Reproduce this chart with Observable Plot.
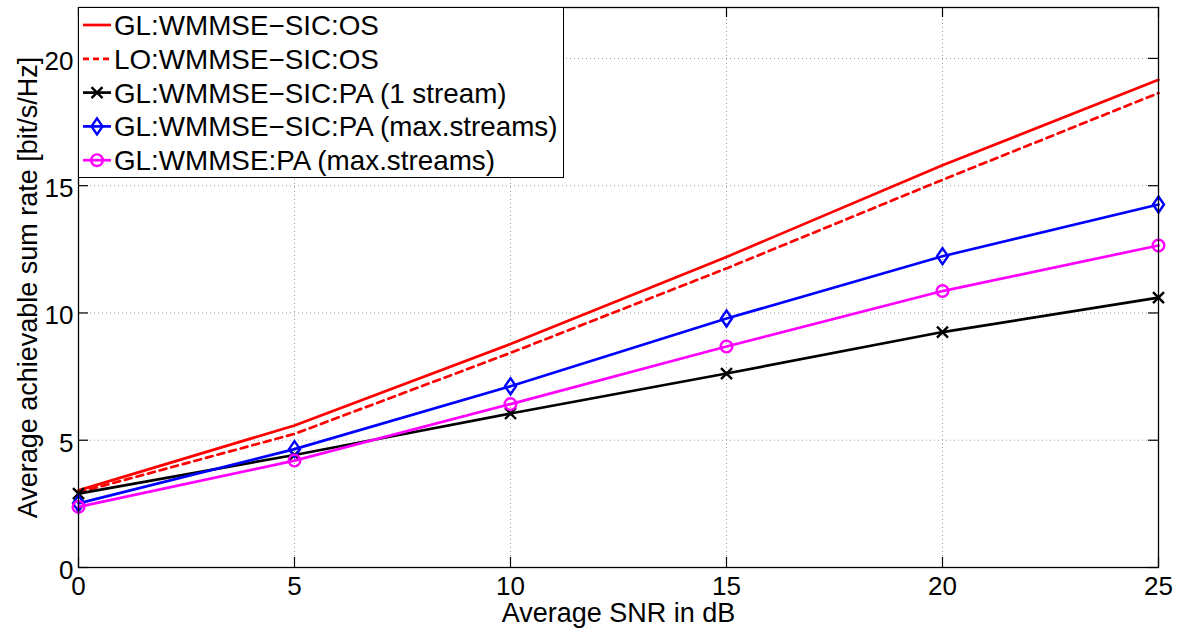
<!DOCTYPE html>
<html><head><meta charset="utf-8">
<script src="https://cdn.jsdelivr.net/npm/d3@7"></script>
<script src="https://cdn.jsdelivr.net/npm/@observablehq/plot@0.6"></script>
<style>
body{margin:0;background:#fff;}
#wrap{position:relative;width:1179px;height:628px;font-family:"Liberation Sans",Arial,Helvetica,sans-serif;}
#legend{position:absolute;left:78px;top:7px;width:486px;height:171px;box-sizing:border-box;border:1.3px solid #000;background:#fff;}
#legend svg{display:block;}
</style></head><body><div id="wrap"></div>
<script>
// ---- data ----
const snr = [0, 5, 10, 15, 20, 25];
const seriesNames = [
  "GL:WMMSE\u2212SIC:OS",
  "LO:WMMSE\u2212SIC:OS",
  "GL:WMMSE\u2212SIC:PA (1 stream)",
  "GL:WMMSE\u2212SIC:PA (max.streams)",
  "GL:WMMSE:PA (max.streams)"
];
const glSicOs   = [3.03, 5.58, 8.78, 12.20, 15.80, 19.16];
const loSicOs   = [2.95, 5.25, 8.43, 11.75, 15.23, 18.64];
const glSicPa1  = [2.90, 4.42, 6.05, 7.62, 9.25, 10.60];
const glSicPaMx = [2.52, 4.65, 7.12, 9.78, 12.23, 14.26];
const glPaMx    = [2.38, 4.20, 6.42, 8.68, 10.86, 12.65];
const seriesValues = [glSicOs, loSicOs, glSicPa1, glSicPaMx, glPaMx];
const seriesColors = ["#ff0000", "#ff0000", "#000000", "#0000ff", "#ff00ff"];
const seriesDash = [null, "7,5", null, null, null];
const seriesMarker = [null, null, "times", "diamond", "circle"];
const xTicks = [0, 5, 10, 15, 20, 25];
const yTicks = [0, 5, 10, 15, 20];
const xDomain = [0, 25];
const yDomain = [0, 22];
const xLabel = "Average SNR in dB";
const yLabel = "Average achievable sum rate [bit/s/Hz]";

// ---- symbols ----
const tallDiamond = {draw(c){c.moveTo(0,-8);c.lineTo(5.5,0);c.lineTo(0,8);c.lineTo(-5.5,0);c.closePath();}};
const cross = {draw(c){c.moveTo(-5.5,-5.5);c.lineTo(5.5,5.5);c.moveTo(5.5,-5.5);c.lineTo(-5.5,5.5);}};
const ring = {draw(c){c.moveTo(5.8,0);c.arc(0,0,5.8,0,2*Math.PI);}};
const symbolFor = {times: cross, diamond: tallDiamond, circle: ring};

const W = 1179, H = 628, mL = 78, mR = 21, mT = 7, mB = 61;
const tickPx = 10;
const yTickLen = tickPx * (yDomain[1]-yDomain[0]) / (H - mT - mB);
const xTickLen = tickPx * (xDomain[1]-xDomain[0]) / (W - mL - mR);

const marks = [
  Plot.gridX(xTicks, {stroke: "#9a9a9a", strokeOpacity: 1, strokeDasharray: "1,3", strokeWidth: 1}),
  Plot.gridY(yTicks, {stroke: "#9a9a9a", strokeOpacity: 1, strokeDasharray: "1,3", strokeWidth: 1}),
];
seriesValues.forEach((vals, k) => {
  const rows = snr.map((x, i) => ({x, y: vals[i], s: seriesNames[k]}));
  marks.push(Plot.line(rows, {x: "x", y: "y", stroke: seriesColors[k], strokeWidth: 2.7,
    strokeDasharray: seriesDash[k] || undefined}));
  if (seriesMarker[k]) {
    marks.push(Plot.dot(rows, {x: "x", y: "y", symbol: symbolFor[seriesMarker[k]], r: 6,
      stroke: seriesColors[k], strokeWidth: 2.4, fill: "none"}));
  }
});
marks.push(
  // inward ticks (bottom, top, left, right)
  Plot.ruleX(xTicks, {x: d => d, y1: yDomain[0], y2: yDomain[0] + yTickLen, stroke: "#000", strokeWidth: 1.2}),
  Plot.ruleX(xTicks, {x: d => d, y1: yDomain[1] - yTickLen, y2: yDomain[1], stroke: "#000", strokeWidth: 1.2}),
  Plot.ruleY(yTicks, {y: d => d, x1: xDomain[0], x2: xDomain[0] + xTickLen, stroke: "#000", strokeWidth: 1.2}),
  Plot.ruleY(yTicks, {y: d => d, x1: xDomain[1] - xTickLen, x2: xDomain[1], stroke: "#000", strokeWidth: 1.2}),
  Plot.frame({stroke: "#000", strokeWidth: 1.3}),
  Plot.axisX(xTicks, {tickSize: 0, tickPadding: 9, fontSize: 26, label: null, tickFormat: d => String(d)}),
  Plot.axisY(yTicks, {tickSize: 0, tickPadding: 5, fontSize: 26, label: null, dy: 3, tickFormat: d => String(d)}),
  Plot.text([xLabel], {frameAnchor: "bottom", text: d => d, dy: 46, lineAnchor: "middle", textAnchor: "middle", fontSize: 27, fill: "#000"}),
  Plot.text([yLabel], {frameAnchor: "left", text: d => d, dx: -50, rotate: -90, lineAnchor: "middle", textAnchor: "middle", fontSize: 27, fill: "#000"})
);

const chart = Plot.plot({
  width: W, height: H, marginLeft: mL, marginRight: mR, marginTop: mT, marginBottom: mB,
  x: {domain: xDomain, label: null},
  y: {domain: yDomain, label: null},
  style: {fontFamily: "'Liberation Sans', Arial, Helvetica, sans-serif", background: "#fff", color: "#000", overflow: "visible"},
  marks
});
const wrap = document.getElementById("wrap");
wrap.appendChild(chart);

// ---- legend (inside the axes, top-left) ----
const legend = document.createElement("div");
legend.id = "legend";
const ns = "http://www.w3.org/2000/svg";
const lsvg = document.createElementNS(ns, "svg");
lsvg.setAttribute("width", 484); lsvg.setAttribute("height", 169);
const rowY = i => 17 + i * 33.8;
const symPath = {
  times: "M-5.5,-5.5L5.5,5.5M5.5,-5.5L-5.5,5.5",
  diamond: "M0,-8L5.5,0L0,8L-5.5,0Z",
  circle: "M5.8,0A5.8,5.8 0 1,1 -5.8,0A5.8,5.8 0 1,1 5.8,0Z"
};
seriesNames.forEach((name, i) => {
  const y = rowY(i);
  const ln = document.createElementNS(ns, "line");
  ln.setAttribute("x1", 4); ln.setAttribute("x2", 32); ln.setAttribute("y1", y); ln.setAttribute("y2", y);
  ln.setAttribute("stroke", seriesColors[i]); ln.setAttribute("stroke-width", 2.7);
  if (seriesDash[i]) ln.setAttribute("stroke-dasharray", "6,4");
  lsvg.appendChild(ln);
  if (seriesMarker[i]) {
    const p = document.createElementNS(ns, "path");
    p.setAttribute("d", symPath[seriesMarker[i]]);
    p.setAttribute("transform", `translate(18,${y})`);
    p.setAttribute("fill", "none"); p.setAttribute("stroke", seriesColors[i]); p.setAttribute("stroke-width", 2.4);
    lsvg.appendChild(p);
  }
  const t = document.createElementNS(ns, "text");
  t.setAttribute("x", 35); t.setAttribute("y", y); t.setAttribute("dy", "0.36em");
  t.setAttribute("font-size", 27.8); t.setAttribute("fill", "#000");
  t.setAttribute("font-family", "'Liberation Sans', Arial, Helvetica, sans-serif");
  t.textContent = name;
  lsvg.appendChild(t);
});
legend.appendChild(lsvg);
wrap.appendChild(legend);
</script></body></html>
